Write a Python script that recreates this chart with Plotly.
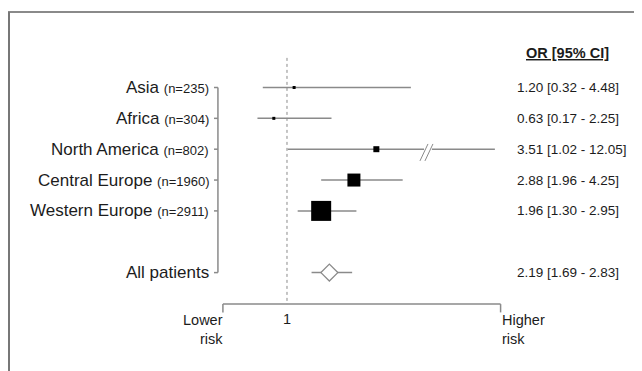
import plotly.graph_objects as go

# ---------------- data ----------------
regions = ["Asia", "Africa", "North America", "Central Europe", "Western Europe", "All patients"]
n_counts = ["235", "304", "802", "1960", "2911", None]
odds_ratio = [1.20, 0.63, 3.51, 2.88, 1.96, 2.19]
ci_low = [0.32, 0.17, 1.02, 1.96, 1.30, 1.69]
ci_high = [4.48, 2.25, 12.05, 4.25, 2.95, 2.83]
rows = [1, 2, 3, 4, 5, 7]
axis_tick_labels = ["1"]
axis_end_labels = ["Lower<br>risk", "Higher<br>risk"]
header = "OR [95% CI]"

# ---------------- styles ----------------
marker_px = [3, 3, 6, 13, 20]
GRAY = "#8a8a8a"
TXT = "#1c1c1c"
FONT = "Liberation Sans, Arial, sans-serif"

# axis break (compressed section above break)
break_lo, break_hi, break_end = 4.85, 5.07, 6.84
far_value = 12.05


def disp(v):
    if v <= break_lo:
        return v
    return break_hi + (v - break_hi) * (break_end - break_hi) / (far_value - break_hi)


fig = go.Figure()
shapes = []
annotations = []

# CI lines
for i, r in enumerate(rows):
    lo, hi = ci_low[i], ci_high[i]
    if hi > break_lo:
        xs = [lo, break_lo, None, break_hi, disp(hi)]
        ys = [r, r, None, r, r]
        # break slashes
        for dx in (0.0, 0.14):
            shapes.append(dict(type="line", xref="x", yref="y",
                               x0=break_lo - 0.115 + dx, y0=r + 0.38,
                               x1=break_lo + 0.11 + dx, y1=r - 0.17,
                               line=dict(color=GRAY, width=1)))
    else:
        xs = [lo, hi]
        ys = [r, r]
    fig.add_trace(go.Scatter(x=xs, y=ys, mode="lines",
                             line=dict(color=GRAY, width=1.5),
                             hoverinfo="skip", showlegend=False))

# point estimates (squares)
fig.add_trace(go.Scatter(x=odds_ratio[:5], y=rows[:5], mode="markers",
                         marker=dict(symbol="square", size=marker_px, color="#000000",
                                     opacity=1, line=dict(width=0)),
                         showlegend=False))
# pooled estimate (diamond)
fig.add_trace(go.Scatter(x=odds_ratio[5:], y=rows[5:], mode="markers",
                         marker=dict(symbol="diamond", size=13, color="white",
                                     line=dict(width=1.3, color=GRAY)),
                         showlegend=False))

# reference line at OR = 1
shapes.append(dict(type="line", xref="x", yref="y", x0=1, x1=1, y0=0.04, y1=8.02,
                   line=dict(color=GRAY, width=1, dash="dot")))

# bottom axis (from lower to higher risk)
ax_min, ax_max, ax_y = -0.8, 7.0, 8.02
shapes.append(dict(type="line", xref="x", yref="y", x0=ax_min, x1=ax_max, y0=ax_y, y1=ax_y,
                   line=dict(color=GRAY, width=1.5)))
for xv in (ax_min, ax_max):
    shapes.append(dict(type="line", xref="x", yref="y", x0=xv, x1=xv, y0=ax_y, y1=ax_y + 0.27,
                       line=dict(color=GRAY, width=1.5)))

# left bracket axis
br_x = -0.94
shapes.append(dict(type="line", xref="x", yref="y", x0=br_x, x1=br_x, y0=rows[0], y1=rows[-1],
                   line=dict(color=GRAY, width=1.5)))
for r in rows:
    shapes.append(dict(type="line", xref="x", yref="y", x0=br_x - 0.11, x1=br_x, y0=r, y1=r,
                       line=dict(color=GRAY, width=1.5)))

# frame (top and left)
W, H = 642, 371
shapes.append(dict(type="line", xref="paper", yref="paper", x0=0, x1=1, y0=1 - 4 / H, y1=1 - 4 / H,
                   line=dict(color="#8a8a8a", width=2)))
shapes.append(dict(type="line", xref="paper", yref="paper", x0=1 / W, x1=1 / W, y0=0, y1=1 - 4 / H,
                   line=dict(color="#777777", width=2)))

# row labels
for i, r in enumerate(rows):
    txt = regions[i]
    if n_counts[i]:
        txt += f" <span style='font-size:13px'>(n={n_counts[i]})</span>"
    annotations.append(dict(x=-1.14, y=r, xref="x", yref="y", text=txt, showarrow=False,
                            xanchor="right", yanchor="middle",
                            font=dict(size=17, color=TXT, family=FONT)))
    annotations.append(dict(x=7.40, y=r, xref="x", yref="y",
                            text=f"{odds_ratio[i]:.2f} [{ci_low[i]:.2f} - {ci_high[i]:.2f}]",
                            showarrow=False, xanchor="left", yanchor="middle",
                            font=dict(size=13.5, color=TXT, family=FONT)))

annotations.append(dict(x=8.89, y=-0.12, xref="x", yref="y", text=f"<b><u>{header}</u></b>",
                        showarrow=False, xanchor="center", yanchor="middle",
                        font=dict(size=14.5, color=TXT, family=FONT)))

annotations.append(dict(x=1, y=8.49, xref="x", yref="y", text=axis_tick_labels[0], showarrow=False,
                        xanchor="center", yanchor="middle", font=dict(size=14.5, color=TXT, family=FONT)))
annotations.append(dict(x=-0.74, y=8.86, xref="x", yref="y", text=axis_end_labels[0], showarrow=False,
                        xanchor="right", yanchor="middle", align="right",
                        font=dict(size=14.5, color=TXT, family=FONT)))
annotations.append(dict(x=6.98, y=8.86, xref="x", yref="y", text=axis_end_labels[1], showarrow=False,
                        xanchor="left", yanchor="middle", align="left",
                        font=dict(size=14.5, color=TXT, family=FONT)))

# page body has an 8px margin: ranges are set so that the marks land at the reference pixels
fig.update_layout(
    width=W, height=H,
    margin=dict(l=0, r=0, t=0, b=0),
    paper_bgcolor="white", plot_bgcolor="white",
    xaxis=dict(range=[-6.837, 11.197], visible=False, fixedrange=True),
    yaxis=dict(range=[10.449, -1.577], visible=False, fixedrange=True),
    shapes=shapes, annotations=annotations,
    font=dict(family=FONT, color=TXT),
)

fig.write_html("out.html")
